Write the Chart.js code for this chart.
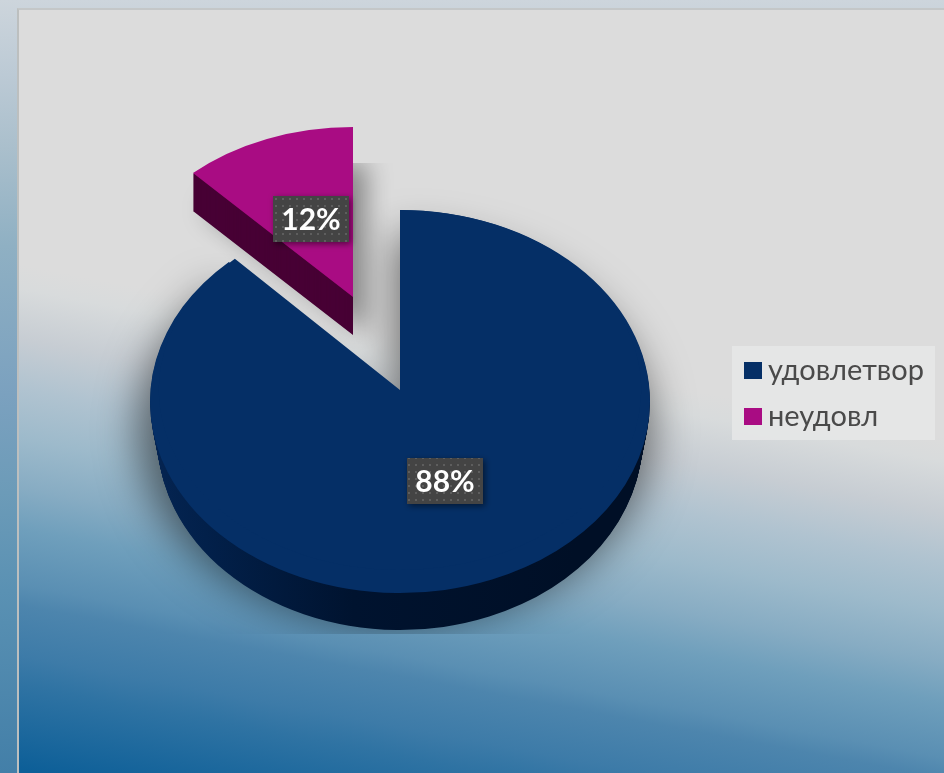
<!DOCTYPE html>
<html>
<head>
<meta charset="utf-8">
<script src="https://cdn.jsdelivr.net/npm/chart.js@4"></script>
<style>
html, body { margin: 0; padding: 0; }
body {
  width: 944px; height: 773px; overflow: hidden; position: relative;
  background: linear-gradient(180deg, #cdd5dc 0px, #bccad5 74px, #aabfcc 148px, #8fb0c3 246px, #7ba1bf 394px, #6c9bb8 493px, #5a91b3 591px, #437fa8 773px);
}
#panel {
  position: absolute; left: 17px; top: 8px; width: 927px; height: 765px; box-sizing: border-box;
  border-left: 2px solid #bcbfbf; border-top: 2px solid #c4c7c8;
  background: linear-gradient(190.6deg, #dcdcdc 0px, #dcdcdc 420px, #d8dbdc 444px, #c7cdd3 493px, #b0c3d0 542px, #9dbacb 591px, #87acc3 640px, #6f9fbc 680px, #5a8fb3 735px, #4d85ad 755px, #3d7ba8 805px, #2f73a3 833px, #0d5f98 916px);
}
#wrap { position: absolute; left: 0; top: 0; width: 944px; height: 773px; }
#legend {
  position: absolute; left: 732px; top: 346px; width: 203px; height: 94px;
  background: rgba(230,231,231,0.85);
  font-family: Lato; font-size: 29px; color: #4a4a4a;
}
#legend .box { position: absolute; left: 12px; width: 18px; height: 17px; }
#legend .txt { position: absolute; left: 36px; white-space: nowrap; line-height: 34px; }
</style>
</head>
<body>
<div id="panel"></div>
<div id="wrap"><canvas id="chart" width="944" height="773"></canvas></div>
<div id="legend"></div>
<script>
var categories = ["удовлетвор", "неудовл"];
var values = [88, 12];
var colors = ["#052f66", "#a90c83"];

var wallColor = "#470034";
var labelFont = "bold 30px Lato";

var labelX = [445, 311];
var labelY = [481, 219];

function dotted(ctx) {
  var c = document.createElement("canvas");
  c.width = 7; c.height = 7;
  var p = c.getContext("2d");
  p.fillStyle = "#444444";
  p.fillRect(0, 0, 7, 7);
  p.fillStyle = "#5e5e5e";
  p.fillRect(2, 2, 2, 2);
  return ctx.createPattern(c, "repeat");
}

function place(ctx, el, x, y, sx, sy, color) {
  var a = Object.create(el);
  a.options = Object.assign({}, el.options, { backgroundColor: color });
  ctx.save();
  ctx.translate(x, y);
  ctx.scale(sx, sy);
  ctx.translate(-el.x, -el.y);
  a.draw(ctx);
  ctx.restore();
}

function softShadow(ctx, el, x, y, sx, sy, blur, alpha, clip) {
  ctx.save();
  ctx.beginPath();
  ctx.rect(clip[0], clip[1], clip[2], clip[3]);
  ctx.clip();
  ctx.shadowColor = "rgba(0,0,0," + alpha + ")";
  ctx.shadowBlur = blur;
  ctx.shadowOffsetX = 2000;
  place(ctx, el, x - 2000, y, sx, sy, "#000");
  ctx.restore();
}

var pie3d = {
  id: "pie3d",
  beforeDatasetDraw: function (chart, args) {
    var ctx = chart.ctx;
    var big = args.meta.data[0], small = args.meta.data[1];

    softShadow(ctx, big, 395, 430, 1.03, 0.78, 40, 0.5, [0, 0, 944, 634]);
    softShadow(ctx, small, 366, 333, 0.95, 0.68, 26, 0.4, [0, 163, 944, 610]);

    // side wall of the big slice, narrowing a little towards the bottom
    var g = ctx.createLinearGradient(150, 0, 650, 0);
    g.addColorStop(0, "#08295a");
    g.addColorStop(0.25, "#02204a");
    g.addColorStop(0.55, "#00132f");
    g.addColorStop(1, "#000f26");
    for (var d = 37; d > 0; d--) {
      place(ctx, big, 400, 401.5 + d, 1 - 0.03 * d / 37, 0.766, g);
    }
    place(ctx, big, 400, 401.5, 1, 0.766, colors[0]);
    // second pass moves the point of the wedge up, the picture has perspective
    place(ctx, big, 400, 390, 0.965, 0.72, colors[0]);

    for (var e = 38; e > 0; e--) {
      place(ctx, small, 353, 297 + e, 0.935, 0.68, wallColor);
    }
    place(ctx, small, 353, 297, 0.935, 0.68, colors[1]);
    return false;
  },
  afterDatasetsDraw: function (chart) {
    var ctx = chart.ctx;
    var pat = dotted(ctx);
    for (var i = 0; i < values.length; i++) {
      var w = 76, h = 46;
      ctx.save();
      ctx.shadowColor = "rgba(0,0,0,0.5)";
      ctx.shadowBlur = 6;
      ctx.shadowOffsetX = 2;
      ctx.shadowOffsetY = 2;
      ctx.fillStyle = pat;
      ctx.fillRect(labelX[i] - w / 2, labelY[i] - h / 2, w, h);
      ctx.restore();
      ctx.save();
      ctx.fillStyle = "#ffffff";
      ctx.font = labelFont;
      ctx.textAlign = "center";
      ctx.textBaseline = "middle";
      ctx.fillText(values[i] + "%", labelX[i], labelY[i] + 1);
      ctx.restore();
    }
  }
};

var chart = new Chart(document.getElementById("chart"), {
  type: "pie",
  data: {
    labels: categories,
    datasets: [{
      data: values,
      backgroundColor: colors,
      borderWidth: 0
    }]
  },
  plugins: [pie3d],
  options: {
    responsive: false,
    animation: false,
    radius: 250,
    plugins: {
      tooltip: { enabled: false },
      legend: { display: false }
    }
  }
});

// html legend built from the chart's own legend items
var rowBox = [16, 62];
var rowTxt = [6, 52];
var items = Chart.controllers.doughnut.overrides.plugins.legend.labels.generateLabels(chart);
var legend = document.getElementById("legend");
items.forEach(function (item, i) {
  var b = document.createElement("div");
  b.className = "box";
  b.style.top = rowBox[i] + "px";
  b.style.background = item.fillStyle;
  legend.appendChild(b);
  var t = document.createElement("div");
  t.className = "txt";
  t.style.top = rowTxt[i] + "px";
  t.textContent = item.text;
  legend.appendChild(t);
});
</script>
</body>
</html>
